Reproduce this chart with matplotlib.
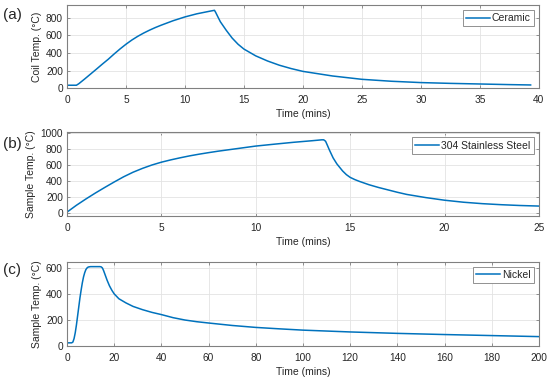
import matplotlib
matplotlib.use("Agg")
import matplotlib.pyplot as plt

plt.rcParams['font.family'] = ['Liberation Sans', 'DejaVu Sans']

# ---- data ----
t_ceramic = [0, 0.8, 1, 1.5, 2, 2.5, 3, 3.5, 4, 4.5, 5, 5.5, 6, 6.5, 7, 7.5, 8,
             9, 10, 11, 12, 12.5,
             12.6, 12.8, 13, 13.5, 14, 14.5, 15, 16, 17, 18, 19, 20, 22.5, 25,
             27.5, 30, 32.5, 35, 37.5, 39.3]
T_ceramic = [35, 35, 52, 106, 162, 218, 275, 330, 390, 447, 500, 548, 590, 627, 660, 690, 717,
             767, 810, 845, 872, 885,
             862, 808, 755, 658, 570, 500, 445, 368, 310, 262, 224, 192, 140, 102,
             80, 65, 56, 49, 42, 38]

t_steel = [0, 0.15, 0.5, 1, 1.5, 2, 2.5, 3, 3.5, 4, 4.5, 5, 5.5, 6, 6.5, 7, 7.5,
           8, 9, 10, 11, 12, 13, 13.5, 13.6,
           13.7, 13.8, 13.9, 14.1, 14.3, 14.6, 14.8, 15, 15.25, 15.5, 16, 16.5,
           17, 17.5, 18, 19, 20, 21, 22, 23, 24, 25]
T_steel = [15, 40, 100, 178, 252, 322, 390, 455, 512, 560, 602, 637, 666, 692, 716, 737, 756,
           774, 806, 838, 862, 885, 905, 916, 916,
           898, 845, 790, 690, 615, 528, 482, 448, 420, 397, 356, 322,
           292, 262, 235, 196, 163, 138, 120, 107, 97, 90]

t_nickel = [0, 2, 2.5, 3, 3.5, 4, 4.5, 5, 5.5, 6, 6.5, 7, 7.5, 8, 8.5, 9, 10,
            14, 14.5, 15, 15.5, 16, 17, 18, 19, 20, 22, 25, 28, 32, 36, 40, 45,
            50, 55, 60, 70, 80, 90, 100, 120, 140, 160, 180, 200]
T_nickel = [22, 22, 28, 55, 100, 160, 230, 300, 370, 430, 485, 530, 563, 587, 600, 607, 610,
            610, 608, 600, 580, 555, 505, 462, 428, 400, 362, 330, 303, 278, 257, 240, 216,
            198, 185, 175, 156, 141, 130, 120, 106, 95, 86, 78, 70]

panels = [
    dict(t=t_ceramic, T=T_ceramic, name='Ceramic', ylabel='Coil Temp. (°C)',
         xlim=(0, 40), ylim=(0, 945), xticks=range(0, 41, 5),
         yticks=range(0, 801, 200), tag='(a)'),
    dict(t=t_steel, T=T_steel, name='304 Stainless Steel', ylabel='Sample Temp. (°C)',
         xlim=(0, 25), ylim=(-30, 1010), xticks=range(0, 26, 5),
         yticks=range(0, 1001, 200), tag='(b)'),
    dict(t=t_nickel, T=T_nickel, name='Nickel', ylabel='Sample Temp. (°C)',
         xlim=(0, 200), ylim=(0, 648), xticks=range(0, 201, 20),
         yticks=range(0, 601, 200), tag='(c)'),
]

fig = plt.figure(figsize=(5.5, 3.8), dpi=100)
boxes = [(0.1218, 0.7676, 0.858, 0.2192),
         (0.1218, 0.4324, 0.858, 0.2195),
         (0.1218, 0.0903, 0.858, 0.2210)]
tag_y = [0.96, 0.622, 0.29]

line_color = '#0072BD'
spine_color = '#808080'
text_color = '#262626'

for p, box, ty in zip(panels, boxes, tag_y):
    ax = fig.add_axes(box)
    ax.plot(p['t'], p['T'], color=line_color, lw=1.1, label=p['name'])
    ax.set_xlim(*p['xlim'])
    ax.set_ylim(*p['ylim'])
    ax.set_xticks(list(p['xticks']))
    ax.set_yticks(list(p['yticks']))
    ax.grid(True, color='#e3e3e3', lw=0.6)
    ax.set_axisbelow(True)
    for s in ax.spines.values():
        s.set_color(spine_color)
        s.set_linewidth(0.8)
    ax.tick_params(direction='in', length=2.5, width=0.6, color=spine_color,
                   labelsize=7.3, labelcolor=text_color, top=True, right=True)
    ax.tick_params(axis='x', pad=5)
    ax.tick_params(axis='y', pad=3)
    ax.set_xlabel('Time (mins)', fontsize=7.5, color=text_color, labelpad=3)
    ax.set_ylabel(p['ylabel'], fontsize=7.5, color=text_color, labelpad=3)
    leg = ax.legend(loc='upper right', fontsize=7.5, frameon=True, fancybox=False,
                    handlelength=2.3, handletextpad=0.2, borderpad=0.3,
                    borderaxespad=0.5, edgecolor=spine_color, framealpha=1)
    leg.get_frame().set_linewidth(0.6)
    for txt in leg.get_texts():
        txt.set_color(text_color)
    fig.text(0.005, ty, p['tag'], fontsize=11, color=text_color,
             ha='left', va='center')

fig.savefig('out.png', dpi=100)
